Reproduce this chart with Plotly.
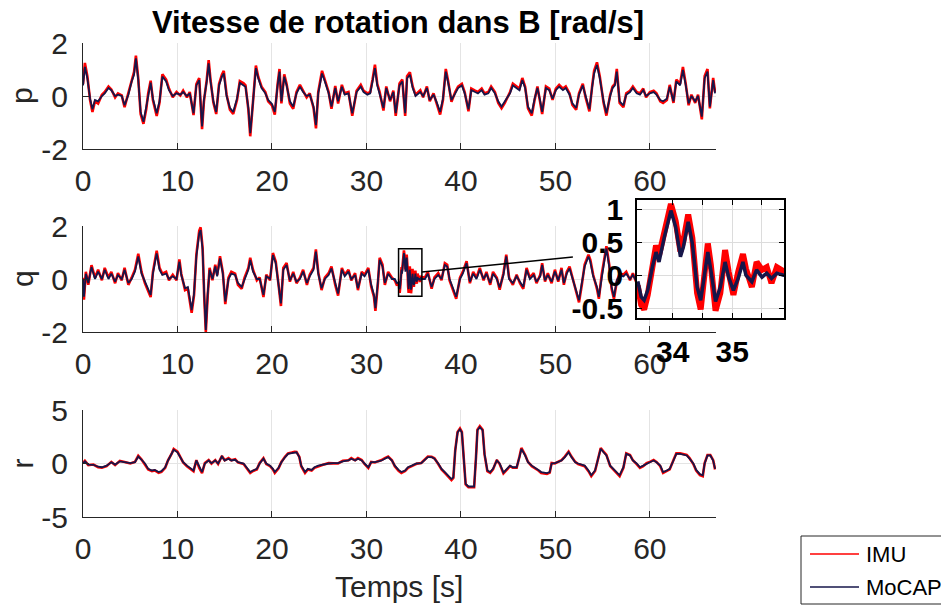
import plotly.graph_objects as go

# ---------------------------------------------------------------- data
# Roll rate p [rad/s]
p_t = [0, 0.2, 0.46, 0.75, 1.0, 1.27, 1.6, 2.0, 2.3, 2.7,
       3.0, 3.4, 3.7, 4.1, 4.4, 4.8, 5.15, 5.4, 5.6, 5.85,
       6.1, 6.4, 6.7, 6.9, 7.16, 7.4, 7.8, 8.1, 8.4, 8.8,
       9.1, 9.5, 9.9, 10.3, 10.6, 11.0, 11.3, 11.7, 12.0, 12.3,
       12.6, 12.8, 13.1, 13.3, 13.5, 13.8, 14.1, 14.4, 14.7, 14.9,
       15.2, 15.55, 15.9, 16.3, 16.6, 17.0, 17.2, 17.5, 17.7, 18.0,
       18.3, 18.55, 18.9, 19.3, 19.6, 20.0, 20.3, 20.6, 20.8, 21.0,
       21.3, 21.55, 21.9, 22.25, 22.6, 22.96, 23.3, 23.67, 24.0, 24.4,
       24.66, 24.9, 25.3, 25.6, 26.0, 26.3, 26.7, 27.0, 27.4, 27.7,
       28.1, 28.5, 28.96, 29.4, 29.7, 30.1, 30.4, 30.65, 30.9, 31.15,
       31.4, 31.8, 32.1, 32.5, 32.85, 33.1, 33.5, 33.8, 34.1, 34.3,
       34.6, 34.9, 35.2, 35.7, 36.0, 36.4, 36.7, 37.1, 37.4, 37.8,
       38.1, 38.4, 38.65, 39.0, 39.4, 39.7, 40.1, 40.4, 40.8, 41.1,
       41.5, 41.8, 42.2, 42.5, 42.9, 43.2, 43.6, 43.95, 44.3, 44.65,
       45.2, 45.5, 45.9, 46.2, 46.5, 46.8, 47.1, 47.5, 47.8, 48.1,
       48.4, 48.6, 49.0, 49.35, 49.7, 50.05, 50.4, 50.8, 51.1, 51.5,
       51.8, 52.2, 52.5, 52.9, 53.2, 53.6, 53.9, 54.1, 54.4, 54.7,
       55.1, 55.4, 55.8, 56.05, 56.3, 56.5, 56.8, 57.2, 57.5, 57.9,
       58.2, 58.6, 58.95, 59.3, 59.6, 60.0, 60.4, 60.7, 61.1, 61.4,
       61.8, 62.1, 62.5, 62.8, 63.2, 63.5, 63.8, 64.1, 64.4, 64.8,
       65.1, 65.5, 65.8, 66.1, 66.35, 66.7, 66.9]
p_mocap = [0.4, 1.1, 0.67, -0.1, -0.5, -0.15, -0.2, 0, 0.1, 0.3,
           0.22, 0, 0.05, 0, -0.35, 0.05, 0.55, 0.8, 1.42, 0.6,
           -0.6, -0.97, -0.4, 0.05, 0.5, -0.1, -0.65, -0.2, 0.73, 0.55,
           0.22, 0, 0.1, 0.05, 0.15, 0, 0.1, -0.65, 0.4, 0.6,
           -1.15, -0.15, 0.55, 1.23, 0.55, -0.2, -0.6, 0.4, 0.73, 0.85,
           0, -0.45, -0.6, -0.1, 0.5, 0.4, 0.35, -0.45, -1.4, -0.2,
           1.05, 0.67, 0.3, 0.1, -0.15, -0.3, -0.6, 0.4, 0.92, -0.2,
           0.73, 0.4, -0.2, -0.4, 0.1, 0.35, 0.15, 0, 0.05, -0.4,
           -1.1, 0.1, 0.85, 0.55, 0.1, -0.4, 0.3, -0.2, 0.35, 0.05,
           0.1, -0.65, 0.15, 0.35, 0.15, 0.05, 0.1, 0.55, 1.05, 0.4,
           0.1, -0.45, 0.3, -0.15, 0.15, -0.65, 0.4, 0.55, -0.65, 0.67,
           0.8, 0.3, 0, 0.15, 0, 0.3, -0.15, 0.05, -0.2, -0.6,
           -0.1, 0.92, 0.5, -0.15, 0.1, 0.3, 0.4, 0.1, -0.5, 0.22,
           0.15, 0.1, 0.22, 0.05, 0.1, 0.3, 0.1, -0.2, -0.4, -0.2,
           0.1, 0.4, 0.3, 0.22, 0.6, 0.3, -0.4, -0.65, -0.1, 0.3,
           -0.2, -0.6, 0.3, 0.22, -0.1, 0.22, 0.35, 0.22, 0.3, 0.05,
           -0.28, -0.45, 0.05, 0.4, 0, -0.5, 0.35, 0.85, 1.17, 0.67,
           -0.2, -0.65, 0, 0.3, 0.4, 0.92, -0.2, -0.35, 0.05, 0.15,
           0.3, 0.1, 0.05, 0.22, 0, 0.1, 0.15, 0.05, -0.15, -0.2,
           -0.1, 0.35, -0.2, 0.55, 0.4, 0.98, 0.4, -0.28, 0, -0.2,
           0, -0.78, 0.67, 0.92, -0.4, 0.6, 0.1]
p_imu = [0.45, 1.25, 0.75, -0.15, -0.6, -0.2, -0.28, 0.05, 0.15, 0.36,
         0.25, -0.05, 0.1, 0.02, -0.42, 0.08, 0.62, 0.9, 1.52, 0.66,
         -0.68, -1.05, -0.48, 0.1, 0.58, -0.15, -0.75, -0.25, 0.82, 0.62,
         0.28, -0.05, 0.15, 0.02, 0.2, -0.05, 0.15, -0.72, 0.45, 0.68,
         -1.25, -0.2, 0.62, 1.35, 0.6, -0.25, -0.68, 0.45, 0.8, 0.95,
         0.05, -0.52, -0.68, -0.15, 0.56, 0.48, 0.4, -0.5, -1.52, -0.25,
         1.15, 0.72, 0.35, 0.15, -0.2, -0.35, -0.7, 0.45, 1.02, -0.28,
         0.82, 0.45, -0.28, -0.48, 0.15, 0.42, 0.2, -0.05, 0.1, -0.45,
         -1.22, 0.15, 0.95, 0.62, 0.15, -0.48, 0.38, -0.28, 0.42, 0.1,
         0.15, -0.75, 0.2, 0.42, 0.2, 0.1, 0.15, 0.62, 1.18, 0.45,
         0.15, -0.55, 0.36, -0.2, 0.2, -0.75, 0.47, 0.62, -0.75, 0.75,
         0.9, 0.35, 0.05, 0.22, -0.05, 0.36, -0.2, 0.1, -0.26, -0.7,
         -0.15, 1.02, 0.56, -0.22, 0.15, 0.35, 0.46, 0.15, -0.58, 0.28,
         0.2, 0.15, 0.28, 0.1, 0.15, 0.36, 0.15, -0.26, -0.46, -0.26,
         0.15, 0.47, 0.36, 0.28, 0.68, 0.35, -0.47, -0.74, -0.15, 0.36,
         -0.26, -0.68, 0.36, 0.28, -0.15, 0.28, 0.42, 0.28, 0.36, 0.1,
         -0.34, -0.52, 0.1, 0.46, -0.05, -0.58, 0.4, 0.95, 1.27, 0.74,
         -0.26, -0.74, 0.05, 0.35, 0.46, 1.02, -0.26, -0.42, 0.1, 0.2,
         0.36, 0.15, 0.1, 0.28, -0.05, 0.15, 0.2, 0.1, -0.2, -0.26,
         -0.15, 0.42, -0.26, 0.62, 0.46, 1.1, 0.45, -0.35, 0.05, -0.26,
         0.05, -0.88, 0.75, 1.02, -0.47, 0.68, 0.15]

# Pitch rate q [rad/s] (denser samples over the zoomed window 33.4-35.9 s)
q_t = [0, 0.1, 0.3, 0.56, 0.9, 1.27, 1.6, 2.0, 2.3, 2.7,
       3.0, 3.4, 3.7, 4.1, 4.4, 4.8, 5.15, 5.5, 5.85, 6.2,
       6.56, 6.9, 7.16, 7.4, 7.8, 8.1, 8.4, 8.8, 9.1, 9.5,
       9.9, 10.2, 10.4, 10.8, 11.1, 11.5, 11.75, 12.0, 12.3, 12.45,
       12.66, 12.84, 13.0, 13.2, 13.4, 13.7, 14.0, 14.2, 14.5, 14.8,
       15.06, 15.4, 15.7, 16.1, 16.4, 16.8, 17.1, 17.5, 17.7, 18.0,
       18.4, 18.7, 19.1, 19.4, 19.8, 20.1, 20.4, 20.7, 20.95, 21.2,
       21.55, 21.9, 22.25, 22.6, 22.96, 23.3, 23.7, 24.0, 24.4, 24.65,
       24.9, 25.25, 25.6, 26.0, 26.3, 26.7, 27.0, 27.4, 27.7, 28.1,
       28.4, 28.8, 29.1, 29.5, 29.8, 30.2, 30.5, 30.8, 30.95, 31.2,
       31.4, 31.7, 31.95, 32.3, 32.7, 33.0, 33.2,
       33.42, 33.47, 33.52, 33.58, 33.66, 33.72, 33.77, 33.86, 33.97, 34.05,
       34.13, 34.18, 34.26, 34.33, 34.41, 34.47, 34.52, 34.59, 34.64, 34.72,
       34.8, 34.88, 34.94, 35.02, 35.1, 35.18, 35.23, 35.33, 35.41, 35.5,
       35.58, 35.66, 35.75, 35.86,
       36.2, 36.5, 36.9, 37.2, 37.6, 37.95, 38.3, 38.55, 38.8, 39.2,
       39.5, 39.9, 40.2, 40.6, 40.95, 41.3, 41.65, 42.0, 42.4, 42.7,
       43.1, 43.4, 43.8, 44.1, 44.5, 44.8, 45.1, 45.5, 45.9, 46.25,
       46.6, 46.95, 47.3, 47.7, 48.0, 48.4, 48.6, 48.9, 49.2, 49.6,
       49.95, 50.3, 50.65, 50.9, 51.2, 51.5, 51.9, 52.2, 52.5, 52.8,
       53.1, 53.5, 53.7, 54.0, 54.4, 54.6, 54.9, 55.2, 55.4, 55.7,
       55.95, 56.2, 56.5, 56.8, 57.2, 57.5, 57.9, 58.2, 58.6, 59.5,
       61.0, 62.5, 64.0, 65.5, 66.9]
q_mocap = [0, -0.67, 0.2, -0.15, 0.45, 0, 0.28, 0, 0.35, 0,
           0.2, -0.1, 0.15, 0, 0.35, -0.15, 0, 0.28, 0.85, 0.2,
           -0.1, -0.35, -0.6, 0.2, 0.97, 0.35, 0.15, 0.2, 0, 0.1,
           0, 0.65, 0.15, -0.35, -0.3, -1.17, -0.55, 0.85, 1.72, 1.85,
           1.1, -0.67, -1.92, -0.55, 0.35, 0, 0.47, 0.1, 0.78, 0.2,
           -0.85, 0, 0.2, 0.15, -0.15, -0.3, 0, 0.35, 0.72, 0.28,
           0, 0, -0.6, 0.1, 0, 0.9, 0.6, -0.15, -0.92, 0.35,
           0.53, -0.05, 0.2, -0.1, 0, 0.28, -0.15, 0.1, 0.35, 1.03,
           0.2, -0.35, 0, 0.15, 0.4, -0.15, -0.55, 0.35, 0.1, 0.28,
           0, 0.15, -0.35, 0.2, 0.1, 0.35, -0.22, -0.6, -1.1, -0.15,
           0.72, 0.47, -0.15, 0.2, 0, 0, -0.15,
           -0.12, -0.33, -0.38, -0.23, 0.13, 0.35, 0.2, 0.58, 0.98, 0.73,
           0.28, 0.43, 0.81, 0.48, -0.18, -0.38, -0.08, 0.35, 0.08, -0.4,
           -0.18, 0.2, -0.03, -0.23, -0.05, 0.2, 0, -0.1, 0.08, -0.03,
           0.03, -0.05, 0.03, 0,
           0, 0.2, -0.3, 0, 0.15, 0, 0.53, 0.47, 0, -0.35,
           -0.67, 0, 0.2, 0.6, -0.1, 0.2, 0, 0.35, 0, 0.2,
           -0.15, 0.2, 0, -0.32, 0.15, 0.85, 0, -0.15, 0.1, -0.1,
           -0.3, 0.35, 0, 0.15, -0.1, 0.1, 0.53, -0.05, 0.15, -0.1,
           0.28, -0.05, 0.35, -0.15, 0.2, 0.4, -0.05, -0.4, -0.8, -0.15,
           0.47, 0.85, 0.65, 0.1, -0.3, -0.67, 0.1, 0.72, 1.15, 0.47,
           -0.3, -0.67, -0.05, 0.15, 0.1, 0.2, 0, 0.15, -0.1, 0.1,
           -0.1, 0.15, -0.05, 0.1, 0]
q_imu = [0.05, -0.78, 0.27, -0.22, 0.52, 0.05, 0.35, -0.05, 0.42, 0.05,
         0.27, -0.16, 0.22, -0.05, 0.42, -0.22, 0.05, 0.35, 0.95, 0.26,
         -0.16, -0.42, -0.68, 0.26, 1.07, 0.42, 0.2, 0.27, -0.05, 0.16,
         -0.05, 0.74, 0.2, -0.42, -0.37, -1.28, -0.62, 0.92, 1.82, 1.95,
         1.18, -0.75, -2.0, -0.62, 0.42, -0.05, 0.54, 0.15, 0.86, 0.26,
         -0.95, 0.05, 0.27, 0.2, -0.22, -0.37, 0.05, 0.42, 0.8, 0.34,
         -0.05, 0.06, -0.68, 0.16, -0.05, 0.98, 0.66, -0.22, -1.02, 0.42,
         0.6, -0.1, 0.27, -0.16, 0.05, 0.35, -0.22, 0.16, 0.42, 1.12,
         0.26, -0.42, 0.05, 0.22, 0.47, -0.22, -0.63, 0.42, 0.16, 0.35,
         -0.05, 0.22, -0.42, 0.27, 0.16, 0.42, -0.28, -0.68, -1.2, -0.22,
         0.8, 0.54, -0.22, 0.27, 0.05, -0.05, -0.22,
         -0.2, -0.45, -0.52, -0.3, 0.22, 0.45, 0.3, 0.66, 1.08, 0.82,
         0.36, 0.52, 0.92, 0.56, -0.27, -0.52, -0.16, 0.48, 0.16, -0.54,
         -0.27, 0.38, 0.05, -0.3, 0.05, 0.32, 0.1, -0.18, 0.2, 0.08,
         0.12, -0.12, 0.12, 0.06,
         0.06, 0.27, -0.37, 0.06, 0.22, -0.05, 0.6, 0.54, -0.05, -0.42,
         -0.75, 0.05, 0.27, 0.67, -0.16, 0.27, 0.05, 0.42, -0.05, 0.27,
         -0.22, 0.27, 0.05, -0.4, 0.22, 0.92, 0.05, -0.22, 0.16, -0.16,
         -0.37, 0.42, 0.05, 0.22, -0.16, 0.16, 0.6, -0.1, 0.22, -0.16,
         0.35, -0.1, 0.42, -0.22, 0.27, 0.47, -0.1, -0.47, -0.88, -0.22,
         0.54, 0.92, 0.72, 0.16, -0.37, -0.75, 0.16, 0.8, 1.24, 0.54,
         -0.37, -0.75, -0.1, 0.22, 0.16, 0.27, -0.05, 0.22, -0.16, 0.16,
         -0.16, 0.22, -0.1, 0.16, 0.05]

# Yaw rate r [rad/s]
r_t = [0, 0.2, 0.56, 1.1, 1.6, 2.0, 2.5, 3.0, 3.4, 3.9,
       4.4, 5.0, 5.5, 5.85, 6.2, 6.56, 6.9, 7.3, 7.6, 8.0,
       8.3, 8.7, 9.0, 9.4, 9.6, 10.0, 10.3, 10.6, 11.0, 11.3,
       11.7, 12.0, 12.3, 12.6, 12.9, 13.3, 13.6, 14.0, 14.3, 14.7,
       15.0, 15.4, 15.7, 16.1, 16.4, 17.0, 17.3, 17.7, 18.0, 18.4,
       18.7, 19.1, 19.4, 19.8, 20.1, 20.3, 20.7, 21.0, 21.4, 21.7,
       22.1, 22.4, 22.6, 22.9, 23.1, 23.5, 23.8, 24.2, 24.5, 24.9,
       25.4, 26.0, 26.5, 27.0, 27.5, 28.1, 28.4, 28.8, 29.1, 29.5,
       29.8, 30.2, 30.5, 30.9, 31.25, 31.6, 31.95, 32.3, 32.7, 33.0,
       33.4, 33.7, 34.1, 34.4, 34.8, 35.3, 35.8, 36.2, 36.5, 36.9,
       37.2, 37.6, 37.95, 38.3, 38.65, 39.0, 39.2, 39.4, 39.65, 39.9,
       40.1, 40.25, 40.5, 40.8, 41.1, 41.4, 41.6, 41.75, 42.0, 42.3,
       42.5, 42.8, 43.1, 43.4, 43.8, 44.1, 44.5, 44.8, 45.2, 45.5,
       45.9, 46.2, 46.4, 46.8, 47.1, 47.5, 47.8, 48.2, 48.5, 49.1,
       49.4, 49.6, 49.95, 50.3, 50.65, 51.0, 51.4, 51.7, 52.1, 52.4,
       52.8, 53.1, 53.5, 53.8, 54.2, 54.5, 54.8, 55.1, 55.4, 55.8,
       56.1, 56.5, 56.8, 57.2, 57.5, 57.9, 58.2, 58.6, 58.95, 59.3,
       59.65, 60.0, 60.4, 60.7, 61.1, 61.4, 61.8, 62.1, 62.5, 62.8,
       63.2, 63.5, 63.9, 64.2, 64.6, 64.9, 65.3, 65.6, 65.8, 66.1,
       66.4, 66.7, 66.9]
r_mocap = [0, 0.2, -0.1, -0.12, -0.3, -0.35, -0.2, 0.12, -0.1, 0.2,
           0.12, 0.03, 0.12, 0.65, 0.35, 0, -0.5, -0.65, -0.6, -0.8,
           -0.72, -0.35, 0.28, 0.9, 1.28, 1.05, 0.6, 0.12, -0.2, -0.4,
           -0.65, 0.28, -0.35, -0.8, 0, 0.28, 0.03, 0.28, 0, 0.65,
           0.28, 0.45, 0.28, 0.35, 0.12, 0, -0.35, -0.8, -0.65, -0.5,
           0, 0.45, 0, -0.2, -0.5, -0.8, -0.4, 0.12, 0.6, 0.9,
           0.97, 1.05, 1.05, 0.6, -0.2, -0.8, -0.5, -0.6, -0.35, -0.2,
           -0.1, 0, 0.03, 0.03, 0.2, 0.28, 0.45, 0.28, 0.45, 0.28,
           0, -0.35, 0.12, 0.12, 0.2, 0.28, 0.45, 0.6, 0.28, -0.2,
           -0.6, -0.8, -0.65, -0.35, -0.2, 0, 0.03, 0.35, 0.6, 0.6,
           0.45, 0, -0.5, -0.8, -1.1, -1.45, -1.3, 1.2, 2.9, 3.2,
           2.9, 0.9, -1.9, -2.15, -2.15, -2.15, 0.6, 3.1, 3.4, 3.1,
           0.9, -0.65, -0.8, -0.5, 0.28, 0, -0.85, -0.6, -0.2, -0.35,
           -0.35, 0.6, 1.37, 0.75, 0.12, -0.2, -0.35, -0.6, -0.8, -0.9,
           -0.8, 0, 0.03, 0.12, 0.28, 0.6, 1.05, 0.6, 0.12, 0,
           -0.1, -0.2, -0.65, -1.1, -0.65, 0.28, 1.37, 1.05, 0.75, -0.2,
           -0.5, -0.8, -1.1, -0.35, 0.9, 0.75, 0.28, 0, -0.35, -0.2,
           0, 0.12, 0.28, 0.12, -0.2, -0.8, -0.65, -0.5, 0.28, 0.9,
           0.9, 0.85, 0.75, 0.45, 0, -0.6, -1.0, -1.1, 0, 0.75,
           0.75, 0.28, -0.5]
r_imu = [0.05, 0.25, -0.15, -0.1, -0.35, -0.4, -0.25, 0.15, -0.15, 0.25,
         0.15, 0, 0.15, 0.72, 0.38, -0.05, -0.55, -0.72, -0.65, -0.88,
         -0.78, -0.4, 0.3, 0.95, 1.35, 1.1, 0.62, 0.1, -0.25, -0.45,
         -0.72, 0.32, -0.42, -0.9, 0.05, 0.32, 0, 0.32, -0.05, 0.7,
         0.3, 0.5, 0.3, 0.4, 0.1, -0.05, -0.4, -0.88, -0.7, -0.55,
         0.05, 0.5, -0.05, -0.25, -0.55, -0.88, -0.45, 0.15, 0.65, 0.95,
         1.02, 1.1, 1.08, 0.62, -0.25, -0.88, -0.55, -0.65, -0.4, -0.25,
         -0.12, 0.03, 0.05, 0, 0.25, 0.3, 0.5, 0.3, 0.5, 0.32,
         -0.05, -0.42, 0.15, 0.1, 0.22, 0.32, 0.5, 0.65, 0.3, -0.25,
         -0.68, -0.88, -0.7, -0.4, -0.25, -0.03, 0.05, 0.38, 0.65, 0.62,
         0.48, -0.05, -0.55, -0.88, -1.18, -1.55, -1.35, 1.25, 2.95, 3.28,
         2.95, 0.85, -1.95, -2.22, -2.2, -2.22, 0.65, 3.15, 3.48, 3.15,
         0.85, -0.72, -0.88, -0.55, 0.32, -0.05, -0.92, -0.65, -0.25, -0.4,
         -0.4, 0.65, 1.45, 0.8, 0.15, -0.25, -0.4, -0.65, -0.88, -0.98,
         -0.85, 0.05, 0, 0.15, 0.32, 0.65, 1.12, 0.65, 0.15, -0.05,
         -0.15, -0.25, -0.72, -1.18, -0.7, 0.3, 1.45, 1.1, 0.8, -0.25,
         -0.55, -0.88, -1.18, -0.4, 0.95, 0.8, 0.3, -0.05, -0.4, -0.25,
         0.03, 0.15, 0.32, 0.15, -0.25, -0.88, -0.7, -0.55, 0.32, 0.95,
         0.95, 0.9, 0.8, 0.5, -0.05, -0.65, -1.08, -1.18, 0.05, 0.8,
         0.8, 0.32, -0.55]

x_ticks = [0, 10, 20, 30, 40, 50, 60]
x_range = [0, 67]
zoom_x = [33.4, 35.87]        # zoomed window of q
zoom_y = [-0.65, 1.14]
zoom_link_end = (51.85, 0.83)  # where the leader line stops, in q axes units

# ---------------------------------------------------------------- style
W, H = 941, 605
FONT = "Liberation Sans, Arial, Helvetica, sans-serif"
AXC = "#262626"
GRID = "#e4e4e4"
IMU_C = "#ff0000"
MOC_C = "#16164a"


def px_x(px):
    return px / W


def px_y(py):
    return 1 - py / H


def tick_text(vals):
    # plain hyphen for negatives, as in MATLAB-style labels
    return [("%g" % v).replace("\u2212", "-") for v in vals]


X_DOM = [px_x(83), px_x(716)]
rows = {
    # name: (top px, bottom px, y range, y ticks)
    "p": (43, 149, [-2, 2], [-2, 0, 2]),
    "q": (226, 332, [-2, 2], [-2, 0, 2]),
    "r": (410, 517, [-5, 5], [-5, 0, 5]),
}
series = [("p", p_t, p_imu, p_mocap), ("q", q_t, q_imu, q_mocap), ("r", r_t, r_imu, r_mocap)]

fig = go.Figure()
layout = dict(
    width=W, height=H, margin=dict(l=0, r=0, t=0, b=0, autoexpand=False),
    paper_bgcolor="white", plot_bgcolor="white",
    font=dict(family=FONT, color=AXC),
    showlegend=False,
)

for i, (name, t, imu, moc) in enumerate(series, start=1):
    top, bot, yr, yt = rows[name]
    xa, ya = f"x{i}", f"y{i}"
    fig.add_trace(go.Scatter(x=t, y=imu, mode="lines", name="IMU",
                             line=dict(color=IMU_C, width=2.6), xaxis=xa, yaxis=ya))
    fig.add_trace(go.Scatter(x=t, y=moc, mode="lines", name="MoCAP",
                             line=dict(color=MOC_C, width=1.8), xaxis=xa, yaxis=ya))
    sfx = "" if i == 1 else str(i)
    layout["xaxis" + sfx] = dict(
        domain=X_DOM, range=x_range, anchor=ya, tickvals=x_ticks,
        ticktext=tick_text(x_ticks), automargin=False,
        ticks="inside", ticklen=6, tickcolor=AXC, tickwidth=1,
        showline=True, linecolor=AXC, linewidth=1,
        showgrid=True, gridcolor=GRID, gridwidth=1, zeroline=False,
        tickfont=dict(size=30, color=AXC, family=FONT), ticklabelstandoff=5,
    )
    layout["yaxis" + sfx] = dict(
        domain=[px_y(bot), px_y(top)], range=yr, anchor=xa, tickvals=yt,
        ticktext=tick_text(yt), automargin=False,
        ticks="inside", ticklen=6, tickcolor=AXC, tickwidth=1,
        showline=True, linecolor=AXC, linewidth=1,
        showgrid=True, gridcolor=GRID, gridwidth=1, zeroline=False,
        tickfont=dict(size=30, color=AXC, family=FONT), ticklabelstandoff=8,
    )

# zoomed view of q
fig.add_trace(go.Scatter(x=q_t, y=q_imu, mode="lines", name="IMU",
                         line=dict(color=IMU_C, width=6), xaxis="x4", yaxis="y4"))
fig.add_trace(go.Scatter(x=q_t, y=q_mocap, mode="lines", name="MoCAP",
                         line=dict(color=MOC_C, width=3.5), xaxis="x4", yaxis="y4"))
layout["xaxis4"] = dict(
    domain=[px_x(637), px_x(784)], range=zoom_x, anchor="y4", automargin=False,
    tickvals=[34, 34.5, 35, 35.5], ticktext=["34", "", "35", ""],
    ticks="inside", ticklen=5, tickcolor="black", showline=True, mirror="ticks",
    linecolor="black", linewidth=1.5, showgrid=True, gridcolor="#dcdcdc", zeroline=False,
    tickfont=dict(size=30, color="black", family=FONT, weight="bold"), ticklabelstandoff=6,
)
layout["yaxis4"] = dict(
    domain=[px_y(318), px_y(200)], range=zoom_y, anchor="x4", automargin=False,
    tickvals=[-0.5, 0, 0.5, 1], ticktext=["-0.5", "0", "0.5", "1"],
    ticks="inside", ticklen=5, tickcolor="black", showline=True, mirror="ticks",
    linecolor="black", linewidth=1.5, showgrid=True, gridcolor="#dcdcdc", zeroline=False,
    tickfont=dict(size=30, color="black", family=FONT, weight="bold"), ticklabelstandoff=6,
)

shapes = [
    # zoom window on q and its leader line
    dict(type="rect", xref="x2", yref="y2", x0=zoom_x[0], x1=zoom_x[1],
         y0=zoom_y[0], y1=zoom_y[1], line=dict(color="black", width=1.5), layer="above"),
    dict(type="line", xref="x2", yref="y2", x0=zoom_x[1], y0=0.26,
         x1=zoom_link_end[0], y1=zoom_link_end[1], line=dict(color="black", width=1.5), layer="above"),
    # legend frame and samples
    dict(type="rect", xref="paper", yref="paper", x0=px_x(801), x1=px_x(990),
         y0=px_y(604), y1=px_y(536), line=dict(color=AXC, width=1), fillcolor="white", layer="above"),
    dict(type="line", xref="paper", yref="paper", x0=px_x(810), x1=px_x(859),
         y0=px_y(554), y1=px_y(554), line=dict(color=IMU_C, width=1.3), layer="above"),
    dict(type="line", xref="paper", yref="paper", x0=px_x(810), x1=px_x(859),
         y0=px_y(587), y1=px_y(587), line=dict(color=MOC_C, width=1.3), layer="above"),
]
layout["shapes"] = shapes

annotations = [
    dict(text="<b>Vitesse de rotation dans B [rad/s]</b>", x=px_x(398), y=px_y(22),
         xref="paper", yref="paper", showarrow=False, xanchor="center", yanchor="middle",
         font=dict(size=31, color="black", family=FONT)),
    dict(text="Temps [s]", x=px_x(399), y=px_y(586), xref="paper", yref="paper",
         showarrow=False, xanchor="center", yanchor="middle",
         font=dict(size=30, color=AXC, family=FONT)),
    dict(text="IMU", x=px_x(864), y=px_y(554), xref="paper", yref="paper",
         showarrow=False, xanchor="left", yanchor="middle",
         font=dict(size=22, color="black", family=FONT)),
    dict(text="MoCAP", x=px_x(864), y=px_y(587), xref="paper", yref="paper",
         showarrow=False, xanchor="left", yanchor="middle",
         font=dict(size=22, color="black", family=FONT)),
]
for name, (top, bot, _, _) in rows.items():
    annotations.append(dict(text=name, x=px_x(22), y=px_y((top + bot) / 2),
                            xref="paper", yref="paper", showarrow=False, textangle=-90,
                            xanchor="center", yanchor="middle",
                            font=dict(size=30, color=AXC, family=FONT)))
layout["annotations"] = annotations

fig.update_layout(**layout)
fig.write_html("out.html")
